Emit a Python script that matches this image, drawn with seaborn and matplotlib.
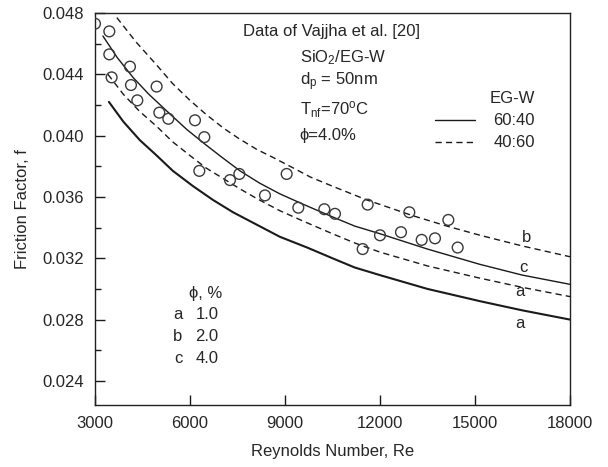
import numpy as np
import pandas as pd
import matplotlib
matplotlib.use('Agg')
import matplotlib.pyplot as plt
import seaborn as sns
from matplotlib.lines import Line2D
from matplotlib.ticker import MultipleLocator, FormatStrFormatter

# Curve readings, Reynolds number vs friction factor
# EG-W 60:40, phi = 1.0 % (solid a)
re_a_6040 = [3440, 3900, 4420, 4950, 5460, 6100, 6730, 7360, 8100, 8840, 9700, 10500,
             11200, 12000, 13500, 15160, 16500, 18000]
f_a_6040 = [0.0422, 0.0409, 0.0397, 0.0387, 0.0377, 0.0367, 0.0358, 0.0350, 0.0342, 0.0334,
            0.0327, 0.0320, 0.0314, 0.0309, 0.0300, 0.0292, 0.0286, 0.0280]
# EG-W 60:40, phi = 4.0 % (solid c)
re_c_6040 = [3250, 3700, 4200, 4700, 5270, 5900, 6500, 7000, 7580, 8200, 8840, 9600, 10500,
             11200, 12000, 13500, 15160, 16500, 18000]
f_c_6040 = [0.0465, 0.0451, 0.0438, 0.0427, 0.0416, 0.0404, 0.0394, 0.0386, 0.0377, 0.0369,
            0.0362, 0.0355, 0.0347, 0.0341, 0.0336, 0.0326, 0.0316, 0.0309, 0.0303]
# EG-W 40:60, phi = 1.0 % (dashed a)
re_a_4060 = [3410, 3895, 4400, 4950, 5450, 6000, 6500, 7050, 7600, 8105, 8840, 9600, 10500,
             11200, 12000, 13500, 15160, 16500, 18000]
f_a_4060 = [0.0440, 0.0427, 0.0416, 0.0406, 0.0396, 0.0387, 0.0379, 0.0372, 0.0365, 0.0359,
            0.0351, 0.0344, 0.0336, 0.0330, 0.0324, 0.0315, 0.0307, 0.0301, 0.0295]
# EG-W 40:60, phi = 2.0 % (dashed b)
re_b_4060 = [3690, 4300, 4950, 5450, 6000, 6500, 7050, 7550, 8110, 8600, 9160, 9800, 10500,
             11590, 12300, 13000, 14110, 15160, 16500, 18000]
f_b_4060 = [0.0477, 0.0461, 0.0446, 0.0434, 0.0423, 0.0414, 0.0405, 0.0398, 0.0391, 0.0386,
            0.0380, 0.0373, 0.0367, 0.0358, 0.0353, 0.0348, 0.0341, 0.0335, 0.0328, 0.0321]

# Data of Vajjha et al. [20]
re_exp = [3000, 3453, 3453, 3526, 4105, 4137, 4337, 4947, 5032, 5316, 6158, 6453, 6295, 7263,
          7558, 8368, 9053, 9421, 10242, 10579, 11611, 11453, 12000, 12663, 12926, 13316,
          13737, 14158, 14453]
f_exp = [0.0473, 0.0468, 0.0453, 0.0438, 0.0445, 0.0433, 0.0423, 0.0432, 0.0415, 0.0411,
         0.0410, 0.0399, 0.0377, 0.0371, 0.0375, 0.0361, 0.0375, 0.0353, 0.0352, 0.0349,
         0.0355, 0.0326, 0.0335, 0.0337, 0.0350, 0.0332, 0.0333, 0.0345, 0.0327]

phi_letters = ['a', 'b', 'c']
phi_values = ['1.0', '2.0', '4.0']

sns.set_theme(style='ticks')
plt.rcParams['font.family'] = ['Liberation Sans', 'DejaVu Sans']
plt.rcParams['mathtext.default'] = 'regular'
plt.rcParams['font.size'] = 12

fig = plt.figure(figsize=(6.08, 4.67), dpi=100)
ax = fig.add_axes([0.1562, 0.1328, 0.7813, 0.8394])

ink = '#1a1a1a'
dash = (0, (4.5, 3))
sns.lineplot(x=re_a_6040, y=f_a_6040, ax=ax, color=ink, lw=1.5)
sns.lineplot(x=re_c_6040, y=f_c_6040, ax=ax, color=ink, lw=1.0)
sns.lineplot(x=re_a_4060, y=f_a_4060, ax=ax, color=ink, lw=1.0, linestyle=dash)
sns.lineplot(x=re_b_4060, y=f_b_4060, ax=ax, color=ink, lw=1.0, linestyle=dash)

exp = pd.DataFrame({'Re': re_exp, 'f': f_exp})
sns.scatterplot(data=exp, x='Re', y='f', ax=ax, marker='o', s=60,
                facecolor='none', edgecolor='#3a3a3a', linewidth=1.0, zorder=3)

ax.set_xlim(3000, 18000)
ax.set_ylim(0.02243, 0.048)
ax.xaxis.set_major_locator(MultipleLocator(3000))
ax.yaxis.set_major_locator(MultipleLocator(0.004))
ax.yaxis.set_minor_locator(MultipleLocator(0.002))
ax.yaxis.set_major_formatter(FormatStrFormatter('%.3f'))
ax.tick_params(which='major', direction='in', length=7, width=1, labelsize=12, color=ink, pad=8)
ax.tick_params(which='minor', direction='in', length=4, width=1, color=ink)
for sp in ax.spines.values():
    sp.set_visible(True)
    sp.set_linewidth(1.0)
    sp.set_color('#222222')

ax.set_xlabel('Reynolds Number, Re', fontsize=12, labelpad=9)
ax.set_ylabel('Friction Factor, f', fontsize=12, labelpad=9)

# annotation block
ax.text(7670, 0.04676, 'Data of Vajjha et al. [20]', fontsize=12, va='center')
ax.text(9470, 0.04506, 'SiO$_2$/EG-W', fontsize=12, va='center')
ax.text(9470, 0.04350, 'd$_p$ = 50nm', fontsize=12, va='center')
ax.text(9470, 0.04167, 'T$_{nf}$=70$^o$C', fontsize=12, va='center')
ax.text(9470, 0.0400, '\u03d5=4.0%', fontsize=12, va='center')

# curve labels
ax.text(16640, 0.03338, 'b', fontsize=12, ha='center', va='center')
ax.text(16520, 0.03143, 'c', fontsize=12, ha='center', va='center')
ax.text(16420, 0.0298, 'a', fontsize=12, ha='center', va='center')
ax.text(16420, 0.02777, 'a', fontsize=12, ha='center', va='center')

# phi key
ax.text(6500, 0.02973, '\u03d5, %', fontsize=12, ha='center', va='center')
for i, (let, val) in enumerate(zip(phi_letters, phi_values)):
    yy = 0.02836 - i * 0.00144
    ax.text(5620, yy, let, fontsize=12, ha='center', va='center')
    ax.text(6540, yy, val, fontsize=12, ha='center', va='center')

# line-style legend
handles = [Line2D([], [], color=ink, lw=1.0),
           Line2D([], [], color=ink, lw=1.0, linestyle=dash)]
leg = ax.legend(handles, ['60:40', '40:60'], title='EG-W', loc='upper left',
                bbox_to_anchor=(0.716, 0.80), frameon=False, fontsize=12,
                title_fontsize=12, handlelength=2.4, handletextpad=1.1,
                labelspacing=0.42, borderpad=0, borderaxespad=0, alignment='right')

fig.savefig('out.png', dpi=100)
